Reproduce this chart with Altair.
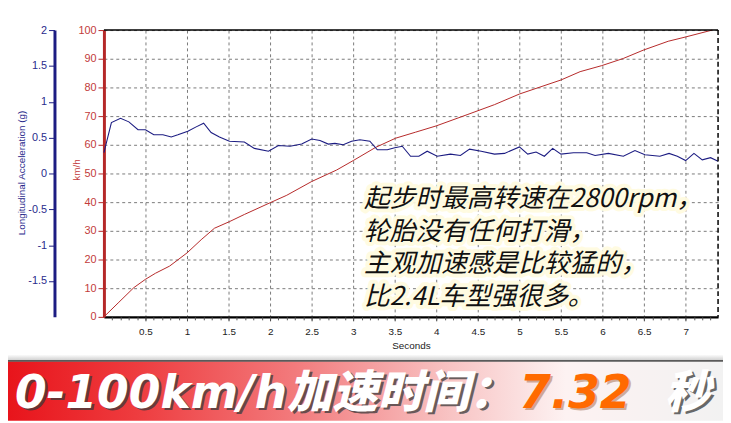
import altair as alt
import pandas as pd

# ---------------- data ----------------
speed_t = [0.0, 0.18, 0.36, 0.5, 0.62, 0.79, 1.0, 1.17, 1.33, 1.51, 1.69, 2.0, 2.2, 2.5, 2.8, 3.0,
           3.27, 3.51, 3.75, 4.0, 4.38, 4.7, 5.0, 5.5, 5.73, 5.99, 6.25, 6.49, 6.79, 7.0, 7.32]
speed_kmh = [0.0, 5.1, 10.2, 13.1, 15.2, 17.7, 22.3, 26.9, 30.9, 33.2, 35.7, 39.8, 42.4, 47.2, 51.2, 54.5,
             59.1, 62.3, 64.4, 66.6, 70.6, 74.0, 77.7, 82.6, 85.5, 87.6, 90.1, 93.0, 96.1, 97.6, 100.0]

acc_t = [0.0, 0.09, 0.2, 0.3, 0.41, 0.5, 0.6, 0.71, 0.81, 0.89, 1.01, 1.11, 1.2, 1.29, 1.39, 1.51, 1.69,
         1.81, 1.98, 2.1, 2.24, 2.38, 2.5, 2.6, 2.7, 2.78, 2.88, 2.98, 3.08, 3.2, 3.29, 3.41, 3.5, 3.59,
         3.69, 3.79, 3.89, 4.01, 4.17, 4.29, 4.4, 4.54, 4.7, 4.82, 5.0, 5.1, 5.2, 5.3, 5.4, 5.5, 5.65,
         5.81, 5.91, 6.07, 6.25, 6.39, 6.51, 6.69, 6.8, 6.9, 7.0, 7.1, 7.2, 7.3, 7.39]
acc_g = [0.29, 0.71, 0.77, 0.72, 0.61, 0.61, 0.54, 0.54, 0.51, 0.54, 0.59, 0.65, 0.70, 0.57, 0.51, 0.45, 0.44,
         0.35, 0.31, 0.39, 0.38, 0.41, 0.48, 0.46, 0.41, 0.42, 0.40, 0.45, 0.47, 0.45, 0.33, 0.33, 0.36, 0.38,
         0.24, 0.24, 0.31, 0.24, 0.27, 0.25, 0.34, 0.31, 0.27, 0.28, 0.37, 0.27, 0.30, 0.24, 0.35, 0.27, 0.29,
         0.29, 0.25, 0.28, 0.24, 0.32, 0.26, 0.24, 0.28, 0.24, 0.18, 0.28, 0.19, 0.22, 0.17]

x_ticks = [0.5, 1, 1.5, 2, 2.5, 3, 3.5, 4, 4.5, 5, 5.5, 6, 6.5, 7]
x_minor = [round(i * 0.1, 1) for i in range(1, 74)]
kmh_ticks = [0, 10, 20, 30, 40, 50, 60, 70, 80, 90, 100]
acc_ticks = [-1.5, -1, -0.5, 0, 0.5, 1, 1.5, 2]

note_lines = ["起步时最高转速在2800rpm，", "轮胎没有任何打滑，", "主观加速感是比较猛的，", "比2.4L车型强很多。"]
banner_label = "0-100km/h加速时间："
banner_value = "7.32"
banner_unit = "秒"

# ---------------- layout ----------------
W, H = 621, 290
RED = "#b52828"
RED_LBL = "#c23b3b"
NAVY = "#1c1c82"
LBL_FONT = "Liberation Sans"

speed_df = pd.DataFrame({"t": speed_t, "kmh": speed_kmh})
acc_df = pd.DataFrame({"t": acc_t, "g": acc_g})
minor_df = pd.DataFrame({"t": x_minor})
one = pd.DataFrame({"a": [0]})

x_scale = alt.Scale(domain=[0, 7.39], nice=False, zero=False)

banner_bg = alt.Chart(one).mark_rect(
    color={"gradient": "linear", "x1": 0, "x2": 1, "y1": 0, "y2": 0,
           "stops": [{"offset": 0, "color": "#e8141b"},
                     {"offset": 0.18, "color": "#ee3c3f"},
                     {"offset": 0.4, "color": "#f27a7c"},
                     {"offset": 0.62, "color": "#f8c4c4"},
                     {"offset": 0.78, "color": "#fdf2f2"},
                     {"offset": 1, "color": "#f2f2f2"}]}
).encode(x=alt.value(-97), x2=alt.value(W + 5), y=alt.value(335), y2=alt.value(395))

banner_shade = alt.Chart(one).mark_rect(
    color={"gradient": "linear", "x1": 0, "x2": 0, "y1": 0, "y2": 1,
           "stops": [{"offset": 0, "color": "#ffffff"}, {"offset": 1, "color": "#cfcfcf"}]}
).encode(x=alt.value(-97), x2=alt.value(W + 5), y=alt.value(328), y2=alt.value(334))

banner_line = alt.Chart(one).mark_rule(color="#5a5a5a", strokeWidth=2).encode(
    x=alt.value(-97), x2=alt.value(W + 5), y=alt.value(334.5))

speed_line = alt.Chart(speed_df).mark_line(color=RED, strokeWidth=1).encode(
    x=alt.X("t:Q", scale=x_scale,
            axis=alt.Axis(orient="bottom", values=x_ticks, labelExpr="'' + datum.value", grid=True,
                          gridDash=[3, 3], gridColor="#7a7a7a", gridWidth=1, domainColor="black",
                          domainWidth=2.2, tickColor="#444", tickSize=4, labelFont=LBL_FONT,
                          labelFontSize=10, labelColor="#222", labelPadding=6, labelFlush=False,
                          labelOverlap=False, title="Seconds", titleFont=LBL_FONT, titleFontSize=10,
                          titleFontWeight="normal", titleColor="#222", titleY=29,
                          titleBaseline="middle")),
    y=alt.Y("kmh:Q", scale=alt.Scale(domain=[0, 100], nice=False),
            axis=alt.Axis(orient="left", values=kmh_ticks, grid=True, gridDash=[3, 3], gridColor="#7a7a7a",
                          gridWidth=1, domainColor=RED, domainWidth=3, tickColor=RED, tickSize=6,
                          labelFont=LBL_FONT, labelFontSize=11, labelColor=RED_LBL, labelPadding=2,
                          title="km/h", titleFont=LBL_FONT, titleFontSize=10, titleFontWeight="normal",
                          titleColor=RED_LBL, titleAngle=270, titleX=-28, titleY=141,
                          titleAlign="center", titleBaseline="middle"))
)

minor_ticks = alt.Chart(minor_df).mark_point(opacity=0).encode(
    x=alt.X("t:Q", scale=x_scale,
            axis=alt.Axis(orient="bottom", values=x_minor, labels=False, domain=False, grid=False,
                          tickSize=3, tickColor="#555", title=None))
)

acc_line = alt.Chart(acc_df).mark_line(color=NAVY, strokeWidth=1.1).encode(
    x=alt.X("t:Q", scale=x_scale, axis=None),
    y=alt.Y("g:Q", scale=alt.Scale(domain=[-2, 2], nice=False),
            axis=alt.Axis(orient="left", offset=50, values=acc_ticks, labelExpr="'' + datum.value",
                          grid=False, domainColor=NAVY, domainWidth=3, tickColor=NAVY, tickSize=6,
                          labelFont=LBL_FONT, labelFontSize=11, labelColor="#2a2a8c", labelPadding=2,
                          title="Longitudinal Acceleration (g)", titleFont=LBL_FONT, titleFontSize=10,
                          titleFontWeight="normal", titleColor="#2a2a8c", titleAngle=270, titleX=-33,
                          titleY=144, titleAlign="center", titleBaseline="middle"))
)

top_border = alt.Chart(one).mark_rule(color="black", strokeWidth=1.5).encode(
    x=alt.value(0), x2=alt.value(W), y=alt.value(0))
right_border = alt.Chart(one).mark_rule(color="black", strokeWidth=1.5, strokeDash=[5, 3]).encode(
    x=alt.value(W), y=alt.value(0), y2=alt.value(H))

NOTE_FONT = "Noto Sans CJK SC"
note_glow = alt.Chart(one).mark_text(
    align="left", baseline="middle", font=NOTE_FONT, fontSize=26, fontStyle="italic", lineHeight=33,
    fill="#fffbe0", stroke="#fffbe0", strokeWidth=8, strokeJoin="round", opacity=0.95
).encode(x=alt.value(263), y=alt.value(171), text=alt.value(note_lines))
note_text = alt.Chart(one).mark_text(
    align="left", baseline="middle", font=NOTE_FONT, fontSize=26, fontStyle="italic", lineHeight=33,
    color="#111111"
).encode(x=alt.value(263), y=alt.value(171), text=alt.value(note_lines))

BFONT = "DejaVu Sans, Noto Sans CJK SC"


def btext(txt, x, color, dx=0, dy=0, opacity=1.0):
    return alt.Chart(one).mark_text(
        align="left", baseline="alphabetic", font=BFONT, fontSize=46, fontWeight=900,
        fontStyle="italic", color=color, opacity=opacity
    ).encode(x=alt.value(x + dx), y=alt.value(382 + dy), text=alt.value(txt))


banner_texts = [
    btext(banner_label, -90, "#3a3a3a", 2.5, 2.5, 0.75),
    btext(banner_label, -90, "#ffffff"),
    btext(banner_value, 420, "#7a3000", 2, 2, 0.35),
    btext(banner_value, 420, "#ff6a00"),
    btext(banner_unit, 567, "#3a3a3a", 2.5, 2.5, 0.75),
    btext(banner_unit, 567, "#ffffff"),
]

chart = alt.layer(
    banner_shade, banner_bg, banner_line,
    speed_line, minor_ticks, acc_line,
    note_glow, note_text, top_border, right_border,
    *banner_texts
).resolve_scale(y="independent").resolve_axis(x="independent").properties(
    width=W, height=H,
    padding={"left": 97, "top": 20, "right": 5, "bottom": 105},
    autosize=alt.AutoSizeParams(type="none"),
    background="white",
).configure_view(stroke=None)

chart.save("out.html", embed_options={"renderer": "svg", "actions": False})
